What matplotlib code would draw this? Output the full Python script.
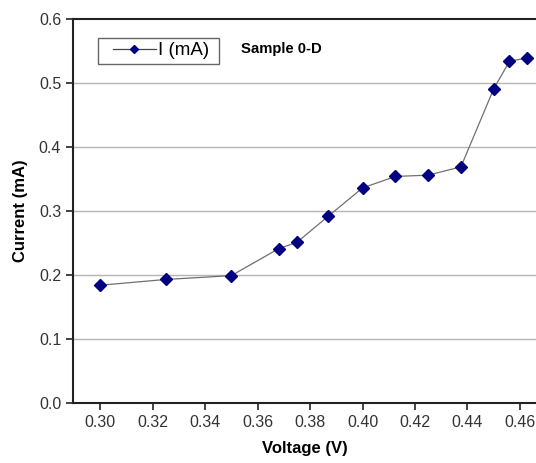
import matplotlib
matplotlib.use('Agg')
import matplotlib.pyplot as plt
from matplotlib.lines import Line2D
from matplotlib.patches import Rectangle

# data
voltage = [0.300, 0.325, 0.350, 0.368, 0.375, 0.387, 0.400, 0.4125, 0.425, 0.4375, 0.450, 0.456, 0.4625]
current = [0.184, 0.193, 0.199, 0.241, 0.251, 0.292, 0.336, 0.354, 0.356, 0.369, 0.491, 0.534, 0.539]

x_ticks = [0.30, 0.32, 0.34, 0.36, 0.38, 0.40, 0.42, 0.44, 0.46]
y_ticks = [0.0, 0.1, 0.2, 0.3, 0.4, 0.5, 0.6]

plt.rcParams['font.family'] = ['Liberation Sans', 'DejaVu Sans']

W, H = 536, 463
fig = plt.figure(figsize=(W / 100, H / 100), dpi=100)
ax = fig.add_axes([73 / W, 60 / H, 1 - 73 / W, 384 / H])

for y in y_ticks[1:-1]:
    ax.axhline(y, color='#b4b4b4', lw=1.0, zorder=0)

ax.plot(voltage, current, color='#707070', lw=0.9,
        marker='D', markersize=6, markerfacecolor='#000080', markeredgecolor='#000080',
        zorder=3)

ax.set_xlim(0.2897, 0.4661)
ax.set_ylim(0.0, 0.6)
ax.set_xticks(x_ticks)
ax.set_xticklabels(['%.2f' % v for v in x_ticks])
ax.set_yticks(y_ticks)
ax.set_yticklabels(['%.1f' % v for v in y_ticks])
ax.tick_params(direction='out', length=5, width=1.2, labelsize=11.5, colors='#222222')
ax.tick_params(labelcolor='#333333')

for side in ['left', 'bottom', 'top']:
    ax.spines[side].set_linewidth(1.5)
    ax.spines[side].set_color('#222222')
ax.spines['right'].set_visible(False)

ax.set_xlabel('Voltage (V)', fontsize=12, fontweight='bold', labelpad=8)
ax.set_ylabel('Current (mA)', fontsize=12, fontweight='bold', labelpad=8)

# legend box drawn by hand (Excel-style padding)
fig.patches.append(Rectangle((97.5 / W, 1 - 64 / H), 121 / W, 26.5 / H,
                             transform=fig.transFigure, fill=False,
                             edgecolor='#666666', lw=1.0, zorder=5))
proxy = Line2D([], [], color='#444444', lw=0.9, marker='D', markersize=4,
               markerfacecolor='#000080', markeredgecolor='#000080')
fig.legend([proxy], ['I (mA)'], loc='center left',
           bbox_to_anchor=(112.5 / W, 1 - 50.5 / H), fontsize=13.5,
           frameon=False, borderpad=0, borderaxespad=0,
           handlelength=2.3, handletextpad=0.15)

fig.text(241 / W, 1 - 49 / H, 'Sample 0-D', fontsize=10.7, fontweight='bold',
         va='center', ha='left')

fig.savefig('out.png', dpi=100)
